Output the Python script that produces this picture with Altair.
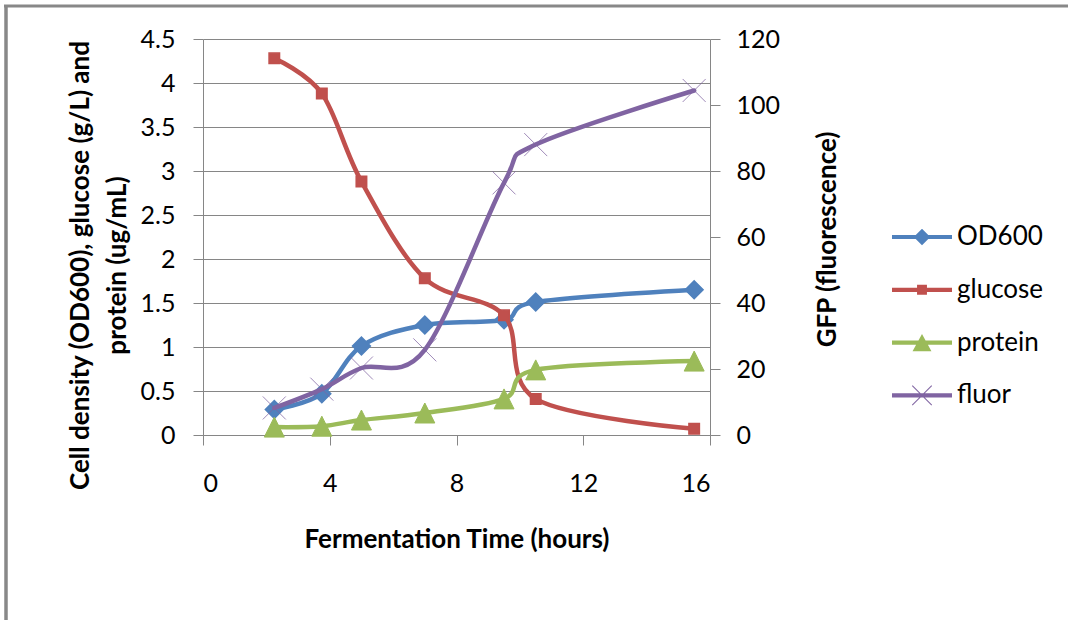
import altair as alt
import pandas as pd

# Sampling times (hours) and measured series
TIME_H = [2.25, 3.75, 5, 7, 9.5, 10.5, 15.5]
OD600 = [0.29, 0.47, 1.01, 1.25, 1.31, 1.51, 1.65]
GLUCOSE = [4.28, 3.88, 2.88, 1.78, 1.36, 0.41, 0.07]
PROTEIN = [0.09, 0.10, 0.17, 0.25, 0.41, 0.74, 0.84]
FLUOR = [8.2, 13.9, 20.3, 25.8, 76.4, 88.0, 104.4]

SERIES = ["OD600", "glucose", "protein", "fluor"]
COLORS = ["#4F81BD", "#C0504D", "#9BBB59", "#8064A2"]

X_TICKS = [0, 4, 8, 12, 16]
LEFT_TICKS = [0, 0.5, 1, 1.5, 2, 2.5, 3, 3.5, 4, 4.5]
RIGHT_TICKS = [0, 20, 40, 60, 80, 100, 120]

X_TITLE = "Fermentation Time (hours)"
LEFT_TITLE = ["Cell density (OD600), glucose (g/L) and", "protein (ug/mL)"]
RIGHT_TITLE = "GFP (fluorescence)"

FONT = "Lato"
GREY = "#868686"

# legend glyphs: a thick line segment with the series marker on top
LINE_SEG = "M-2,-0.14H2V0.14H-2Z"
LEGEND_SHAPES = [
    LINE_SEG + "M0,-0.55L0.55,0L0,0.55L-0.55,0Z",
    LINE_SEG + "M-0.33,-0.33H0.33V0.33H-0.33Z",
    LINE_SEG + "M0,-0.57L0.63,0.57H-0.63Z",
    LINE_SEG
    + "M-0.675,-0.625L-0.625,-0.675L0.675,0.625L0.625,0.675Z"
    + "M-0.675,0.625L0.625,-0.675L0.675,-0.625L-0.625,0.675Z",
]

rows = []
for name, vals in zip(SERIES, [OD600, GLUCOSE, PROTEIN, FLUOR]):
    for t, v in zip(TIME_H, vals):
        rows.append({"series": name, "time": t, "value": v})
data = pd.DataFrame(rows)

W, H = 507, 396
PAD = {"left": 203, "top": 39, "right": 1068 - 203 - W, "bottom": 620 - 39 - H}

x_enc = alt.X(
    "time:Q",
    scale=alt.Scale(domain=[0, 16], nice=False, zero=False),
    axis=alt.Axis(
        values=X_TICKS, grid=False, domainColor=GREY, tickColor=GREY, tickSize=10,
        labelFont=FONT, labelFontSize=25, labelColor="#000", labelPadding=26,
        title=X_TITLE, titleFont=FONT, titleFontSize=26, titleFontWeight="bold",
        titleColor="#000", titleX=W / 2, titleY=104, titleBaseline="middle",
        titleAlign="center",
    ),
)

yl_enc = alt.Y(
    "value:Q",
    scale=alt.Scale(domain=[0, 4.5], nice=False, zero=True),
    axis=alt.Axis(
        values=LEFT_TICKS, format="~g", grid=True, gridColor=GREY, gridWidth=1,
        domainColor=GREY, tickColor=GREY, tickSize=10,
        labelFont=FONT, labelFontSize=25, labelColor="#000", labelPadding=18,
        title=LEFT_TITLE, titleFont=FONT, titleFontSize=26, titleFontWeight="bold",
        titleColor="#000", titleAngle=270, titleX=-123, titleY=226,
        titleBaseline="middle", titleAlign="center", titleLineHeight=37,
    ),
)

yr_enc = alt.Y(
    "value:Q",
    scale=alt.Scale(domain=[0, 120], nice=False, zero=True),
    axis=alt.Axis(
        orient="right", values=RIGHT_TICKS, grid=False,
        domainColor=GREY, tickColor=GREY, tickSize=10,
        labelFont=FONT, labelFontSize=25, labelColor="#000", labelPadding=16,
        title=RIGHT_TITLE, titleFont=FONT, titleFontSize=26, titleFontWeight="bold",
        titleColor="#000", titleAngle=270, titleX=117, titleY=200,
        titleBaseline="middle", titleAlign="center",
    ),
)

MARKERS = {
    "OD600": dict(shape="diamond", size=320, filled=True, strokeWidth=1.5, opacity=1),
    "glucose": dict(shape="square", size=110, filled=True, strokeWidth=1.5, opacity=1),
    "protein": dict(shape="M0,-1L1,1L-1,1Z", size=400, filled=True, strokeWidth=1, opacity=1),
    "fluor": dict(shape="M-1,-1L1,1M-1,1L1,-1", size=529, filled=False, strokeWidth=1, opacity=0.75),
}


def series_layers(name, color, y_enc):
    base = alt.Chart(data).transform_filter(alt.datum.series == name)
    line = base.mark_line(
        interpolate="cardinal", strokeWidth=4.5, color=color,
        strokeCap="round", strokeJoin="round",
    ).encode(x=x_enc, y=y_enc)
    m = MARKERS[name]
    pts = base.mark_point(
        shape=m["shape"], size=m["size"], filled=m["filled"], color=color,
        stroke=color, strokeWidth=m["strokeWidth"], opacity=m["opacity"],
    ).encode(x=x_enc, y=y_enc)
    return [line, pts]


legend = alt.Legend(
    title=None, orient="none", legendX=704, legendY=183, padding=0,
    symbolSize=900, symbolStrokeWidth=0, symbolOpacity=1,
    labelFont=FONT, labelFontSize=26, labelColor="#000", labelOffset=20,
    rowPadding=24.8, labelLimit=0,
)

legend_layer = alt.Chart(data).transform_filter(
    alt.datum.series != "fluor"
).mark_point(filled=True, opacity=0).encode(
    x=x_enc,
    y=yl_enc,
    color=alt.Color("series:N", scale=alt.Scale(domain=SERIES, range=COLORS), legend=legend),
    shape=alt.Shape("series:N", scale=alt.Scale(domain=SERIES, range=LEGEND_SHAPES), legend=legend),
)

left_layers = []
for name, color in zip(SERIES[:3], COLORS[:3]):
    left_layers += series_layers(name, color, yl_enc)
left = alt.layer(*left_layers, legend_layer)

right = alt.layer(*series_layers("fluor", COLORS[3], yr_enc))

# outer frame lines (top and left edges of the figure)
frame_df = pd.DataFrame({"k": [0]})
frame_top = alt.Chart(frame_df).mark_rule(color="#888888", strokeWidth=3).encode(
    x=alt.value(-199), x2=alt.value(1068 - 203), y=alt.value(-33)
)
frame_left = alt.Chart(frame_df).mark_rule(color="#888888", strokeWidth=3.5).encode(
    x=alt.value(-197), y=alt.value(-34), y2=alt.value(620 - 39)
)

chart = alt.layer(left, right, frame_top, frame_left).resolve_scale(
    y="independent"
).properties(
    width=W, height=H,
    autosize=alt.AutoSizeParams(type="none"),
    padding=PAD,
    background="white",
).configure_view(stroke=None)

chart.save("out.html", embed_options={"renderer": "svg", "actions": False})
